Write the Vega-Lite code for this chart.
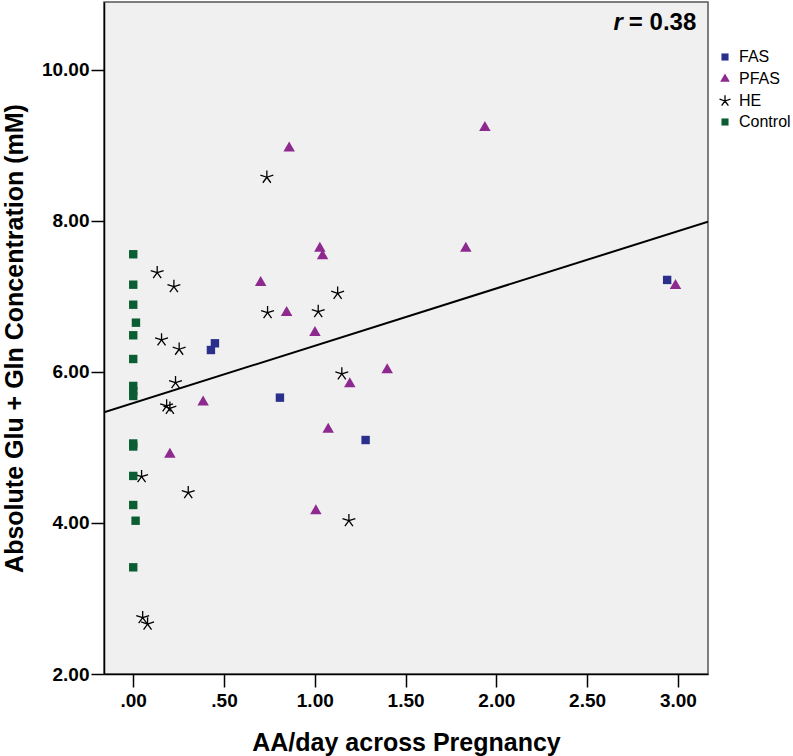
{
  "$schema": "https://vega.github.io/schema/vega-lite/v6.json",
  "width": 604,
  "height": 672,
  "autosize": {"type": "none"},
  "padding": {"left": 104, "top": 2, "right": 85, "bottom": 82},
  "background": "white",
  "config": {
    "font": "Liberation Sans",
    "view": {"fill": "#f0f0f0", "stroke": "#555555", "strokeWidth": 1.5},
    "axis": {
      "domainColor": "#000000",
      "domainWidth": 1.5,
      "tickColor": "#000000",
      "tickWidth": 1.5,
      "tickSize": 13,
      "grid": false,
      "labelFont": "Liberation Sans",
      "labelFontSize": 19,
      "labelFontWeight": "bold",
      "labelColor": "#000000",
      "titleFont": "Liberation Sans",
      "titleFontSize": 25,
      "titleFontWeight": "bold",
      "titleColor": "#000000"
    },
    "legend": {
      "labelFont": "Liberation Sans",
      "labelFontSize": 16,
      "labelColor": "#000000",
      "symbolSize": 140,
      "symbolStrokeWidth": 1.3,
      "rowPadding": 5,
      "labelOffset": 6
    }
  },
  "datasets": {
    "points": [
      {"group": "FAS", "aa": 0.428, "glx": 6.291},
      {"group": "FAS", "aa": 0.45, "glx": 6.38},
      {"group": "FAS", "aa": 0.808, "glx": 5.66},
      {"group": "FAS", "aa": 1.28, "glx": 5.099},
      {"group": "FAS", "aa": 2.941, "glx": 7.219},
      {"group": "PFAS", "aa": 0.859, "glx": 8.963},
      {"group": "PFAS", "aa": 1.028, "glx": 7.638},
      {"group": "PFAS", "aa": 1.043, "glx": 7.536},
      {"group": "PFAS", "aa": 0.702, "glx": 7.183},
      {"group": "PFAS", "aa": 0.845, "glx": 6.785},
      {"group": "PFAS", "aa": 1.001, "glx": 6.521},
      {"group": "PFAS", "aa": 1.399, "glx": 6.026},
      {"group": "PFAS", "aa": 1.193, "glx": 5.841},
      {"group": "PFAS", "aa": 0.385, "glx": 5.599},
      {"group": "PFAS", "aa": 1.074, "glx": 5.241},
      {"group": "PFAS", "aa": 0.202, "glx": 4.91},
      {"group": "PFAS", "aa": 1.006, "glx": 4.159},
      {"group": "PFAS", "aa": 1.937, "glx": 9.236},
      {"group": "PFAS", "aa": 1.832, "glx": 7.638},
      {"group": "PFAS", "aa": 2.987, "glx": 7.143},
      {"group": "HE", "aa": 0.132, "glx": 7.315},
      {"group": "HE", "aa": 0.224, "glx": 7.13},
      {"group": "HE", "aa": 0.736, "glx": 8.579},
      {"group": "HE", "aa": 0.156, "glx": 6.424},
      {"group": "HE", "aa": 0.253, "glx": 6.301},
      {"group": "HE", "aa": 0.74, "glx": 6.785},
      {"group": "HE", "aa": 1.019, "glx": 6.799},
      {"group": "HE", "aa": 1.126, "glx": 7.042},
      {"group": "HE", "aa": 1.149, "glx": 5.974},
      {"group": "HE", "aa": 0.233, "glx": 5.858},
      {"group": "HE", "aa": 0.184, "glx": 5.55},
      {"group": "HE", "aa": 0.202, "glx": 5.519},
      {"group": "HE", "aa": 0.046, "glx": 4.613},
      {"group": "HE", "aa": 0.303, "glx": 4.401},
      {"group": "HE", "aa": 1.188, "glx": 4.03},
      {"group": "HE", "aa": 0.052, "glx": 2.746},
      {"group": "HE", "aa": 0.079, "glx": 2.662},
      {"group": "Control", "aa": 0.0, "glx": 7.559},
      {"group": "Control", "aa": 0.0, "glx": 7.156},
      {"group": "Control", "aa": 0.0, "glx": 6.891},
      {"group": "Control", "aa": 0.015, "glx": 6.653},
      {"group": "Control", "aa": 0.0, "glx": 6.486},
      {"group": "Control", "aa": 0.0, "glx": 6.172},
      {"group": "Control", "aa": 0.0, "glx": 5.815},
      {"group": "Control", "aa": 0.0, "glx": 5.748},
      {"group": "Control", "aa": 0.0, "glx": 5.682},
      {"group": "Control", "aa": 0.0, "glx": 5.053},
      {"group": "Control", "aa": 0.0, "glx": 5.013},
      {"group": "Control", "aa": 0.0, "glx": 4.623},
      {"group": "Control", "aa": 0.0, "glx": 4.238},
      {"group": "Control", "aa": 0.013, "glx": 4.03},
      {"group": "Control", "aa": 0.0, "glx": 3.413}
    ],
    "fit": [
      {"aa": -0.161, "glx": 5.466},
      {"aa": 3.166, "glx": 7.991}
    ],
    "rvalue": [
      {"aa": 2.73, "glx": 10.53, "t": "= 0.38"}
    ],
    "rletter": [
      {"aa": 2.697, "glx": 10.53, "t": "r"}
    ]
  },
  "encoding": {
    "x": {
      "field": "aa",
      "type": "quantitative",
      "scale": {"domain": [-0.161, 3.166], "nice": false, "zero": false},
      "axis": {
        "title": "AA/day across Pregnancy",
        "values": [0, 0.5, 1, 1.5, 2, 2.5, 3],
        "labelExpr": "datum.value < 1 ? replace(format(datum.value, '.2f'), '0.', '.') : format(datum.value, '.2f')",
        "labelPadding": 4,
        "titlePadding": 20,
        "labelFlush": false
      }
    },
    "y": {
      "field": "glx",
      "type": "quantitative",
      "scale": {"domain": [2, 10.9], "nice": false, "zero": false},
      "axis": {
        "title": "Absolute Glu + Gln Concentration (mM)",
        "values": [2, 4, 6, 8, 10],
        "format": ".2f",
        "labelPadding": 2,
        "titlePadding": 14,
        "labelFlush": false
      }
    }
  },
  "layer": [
    {
      "data": {"name": "fit"},
      "mark": {"type": "line", "color": "#000000", "strokeWidth": 2, "clip": true}
    },
    {
      "data": {"name": "points"},
      "mark": {"type": "point", "filled": false, "strokeWidth": 1.3, "opacity": 1, "size": 196},
      "encoding": {
        "shape": {
          "field": "group",
          "type": "nominal",
          "scale": {
            "domain": ["FAS", "PFAS", "HE", "Control"],
            "range": [
              "M-0.6,-0.6H0.6V0.6H-0.6Z",
              "M0,-0.95L0.82,0.48L-0.82,0.48Z",
              "M0,-0.97L0,0M0.922,-0.3L0,0M0.57,0.785L0,0M-0.57,0.785L0,0M-0.922,-0.3L0,0",
              "M-0.6,-0.6H0.6V0.6H-0.6Z"
            ]
          },
          "legend": {"title": null, "orient": "none", "legendX": 613, "legendY": 47}
        },
        "fill": {
          "field": "group",
          "type": "nominal",
          "scale": {
            "domain": ["FAS", "PFAS", "HE", "Control"],
            "range": ["#2b2f8c", "#8e2a8f", "rgba(0,0,0,0)", "#0b5e33"]
          },
          "legend": {"title": null, "orient": "none", "legendX": 613, "legendY": 47}
        },
        "stroke": {
          "field": "group",
          "type": "nominal",
          "scale": {
            "domain": ["FAS", "PFAS", "HE", "Control"],
            "range": ["rgba(0,0,0,0)", "rgba(0,0,0,0)", "#000000", "rgba(0,0,0,0)"]
          },
          "legend": {"title": null, "orient": "none", "legendX": 613, "legendY": 47}
        }
      }
    },
    {
      "data": {"name": "rvalue"},
      "mark": {"type": "text", "fontSize": 24, "fontWeight": "bold", "color": "#000000", "baseline": "alphabetic", "align": "left"},
      "encoding": {"text": {"field": "t"}}
    },
    {
      "data": {"name": "rletter"},
      "mark": {"type": "text", "fontSize": 24, "fontWeight": "bold", "fontStyle": "italic", "color": "#000000", "baseline": "alphabetic", "align": "right"},
      "encoding": {"text": {"field": "t"}}
    }
  ]
}
